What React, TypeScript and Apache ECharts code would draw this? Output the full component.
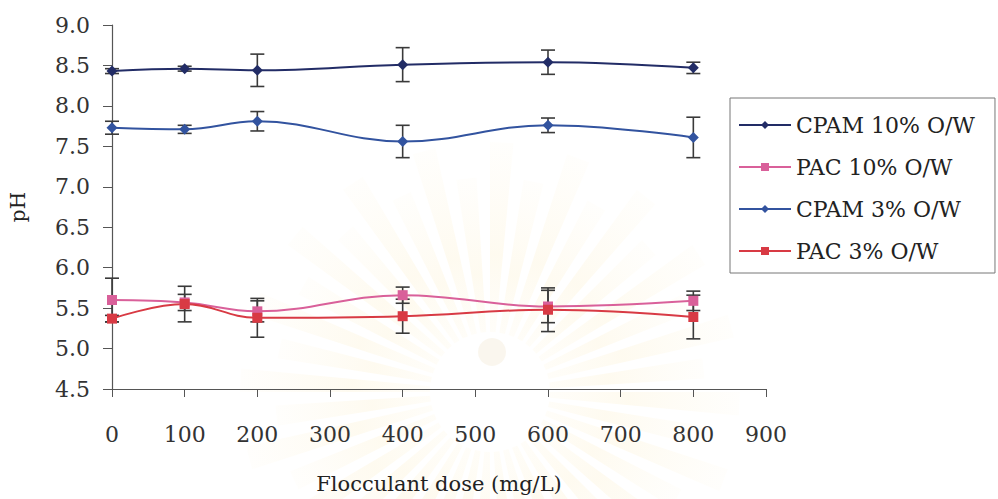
import React, { useEffect, useRef } from "react";
import * as echarts from "echarts";

// Flocculant dose (mg/L) and measured pH with standard deviations
const doses = [0, 100, 200, 400, 600, 800];

const cpam10 = [8.43, 8.46, 8.44, 8.51, 8.54, 8.47];
const cpam10Err = [0.03, 0.03, 0.2, 0.21, 0.15, 0.07];

const pac10 = [5.6, 5.57, 5.46, 5.66, 5.52, 5.59];
const pac10Err = [0.27, 0.1, 0.13, 0.1, 0.2, 0.12];

const cpam3 = [7.73, 7.71, 7.81, 7.56, 7.76, 7.61];
const cpam3Err = [0.08, 0.05, 0.12, 0.2, 0.09, 0.25];

const pac3 = [5.37, 5.55, 5.38, 5.4, 5.48, 5.39];
const pac3Err = [0.04, 0.22, 0.24, 0.21, 0.27, 0.27];

const seriesNames = ["CPAM 10% O/W", "PAC 10% O/W", "CPAM 3% O/W", "PAC 3% O/W"];
const seriesColors = ["#222c66", "#d9609a", "#32539f", "#d83a44"];

const FONT = "DejaVu Serif";

function lineSeries(name: string, values: number[], color: string, symbol: string, size: number) {
  return {
    type: "line",
    name,
    data: doses.map((d, i) => [d, values[i]]),
    smooth: 0.4,
    symbol,
    symbolSize: size,
    showSymbol: true,
    lineStyle: { color, width: 2 },
    itemStyle: { color },
    z: 4,
  };
}

function errorSeries(name: string, values: number[], errs: number[]) {
  return {
    type: "custom",
    name: name + " sd",
    silent: true,
    z: 3,
    encode: { x: 0, y: [1, 2] },
    data: doses.map((d, i) => [d, values[i] - errs[i], values[i] + errs[i]]),
    renderItem: (_params: any, api: any) => {
      const x = api.value(0);
      const lo = api.coord([x, api.value(1)]);
      const hi = api.coord([x, api.value(2)]);
      const cap = 7;
      const style = { stroke: "#3a3a3a", lineWidth: 1.6, fill: null };
      return {
        type: "group",
        children: [
          { type: "line", shape: { x1: lo[0], y1: lo[1], x2: hi[0], y2: hi[1] }, style },
          { type: "line", shape: { x1: lo[0] - cap, y1: lo[1], x2: lo[0] + cap, y2: lo[1] }, style },
          { type: "line", shape: { x1: hi[0] - cap, y1: hi[1], x2: hi[0] + cap, y2: hi[1] }, style },
        ],
      };
    },
  };
}

// faint sunburst emblem in the background
function emblem() {
  const cx = 490;
  const cy = 392;
  const rays: any[] = [];
  const n = 40;
  for (let i = 0; i < n; i++) {
    const a0 = (i / n) * Math.PI * 2;
    const a1 = a0 + ((Math.PI * 2) / n) * 0.6;
    const r = i % 2 === 0 ? 250 : 215;
    rays.push({
      type: "polygon",
      silent: true,
      z: -10,
      shape: {
        points: [
          [cx + Math.cos(a0) * 60, cy + Math.sin(a0) * 60],
          [cx + Math.cos(a0) * r, cy + Math.sin(a0) * r],
          [cx + Math.cos(a1) * r, cy + Math.sin(a1) * r],
          [cx + Math.cos(a1) * 60, cy + Math.sin(a1) * 60],
        ],
      },
      style: {
        fill: new echarts.graphic.RadialGradient(cx, cy, r, [
          { offset: 0, color: "rgba(255,245,215,0.05)" },
          { offset: 0.55, color: "rgba(250,228,165,0.17)" },
          { offset: 1, color: "rgba(250,232,180,0.04)" },
        ], true),
      },
    });
  }
  rays.push({
    type: "circle",
    silent: true,
    z: -9,
    shape: { cx: 492, cy: 352, r: 14 },
    style: { fill: "rgba(240,228,205,0.35)" },
  });
  return rays;
}

export default function App() {
  const ref = useRef<HTMLDivElement>(null);

  useEffect(() => {
    if (!ref.current) return;
    const chart = echarts.init(ref.current, null, { renderer: "svg" });
    chart.setOption({
      animation: false,
      backgroundColor: "#ffffff",
      textStyle: { fontFamily: FONT },
      graphic: { elements: emblem() },
      grid: { left: 112, right: 232, top: 25, bottom: 109 },
      legend: {
        data: seriesNames,
        orient: "vertical",
        left: 730,
        top: 98,
        padding: [16, 20, 11, 8],
        itemGap: 20,
        itemWidth: 52,
        itemHeight: 10,
        borderColor: "#777",
        borderWidth: 1,
        textStyle: { fontFamily: FONT, fontSize: 22, color: "#222", lineHeight: 22 },
      },
      xAxis: {
        type: "value",
        min: 0,
        max: 900,
        interval: 100,
        name: "Flocculant dose (mg/L)",
        nameLocation: "middle",
        nameGap: 84,
        nameTextStyle: { fontFamily: FONT, fontSize: 21, color: "#222" },
        axisLine: { lineStyle: { color: "#555", width: 1.2 } },
        axisTick: { show: true, length: 8, lineStyle: { color: "#555" } },
        axisLabel: { margin: 34, fontFamily: FONT, fontSize: 22, color: "#333" },
        splitLine: { show: false },
      },
      yAxis: {
        type: "value",
        min: 4.5,
        max: 9.0,
        interval: 0.5,
        name: "pH",
        nameLocation: "middle",
        nameRotate: 90,
        nameGap: 84,
        nameTextStyle: { fontFamily: FONT, fontSize: 20, color: "#222" },
        axisLine: { show: true, lineStyle: { color: "#555", width: 1.2 } },
        axisTick: { show: true, length: 9, lineStyle: { color: "#555" } },
        axisLabel: {
          margin: 22,
          fontFamily: FONT,
          fontSize: 22,
          color: "#333",
          formatter: (v: number) => v.toFixed(1),
        },
        splitLine: { show: false },
      },
      series: [
        lineSeries(seriesNames[0], cpam10, seriesColors[0], "diamond", 11),
        lineSeries(seriesNames[1], pac10, seriesColors[1], "rect", 10),
        lineSeries(seriesNames[2], cpam3, seriesColors[2], "diamond", 11),
        lineSeries(seriesNames[3], pac3, seriesColors[3], "rect", 10),
        errorSeries(seriesNames[0], cpam10, cpam10Err),
        errorSeries(seriesNames[1], pac10, pac10Err),
        errorSeries(seriesNames[2], cpam3, cpam3Err),
        errorSeries(seriesNames[3], pac3, pac3Err),
      ],
    });
    return () => chart.dispose();
  }, []);

  return <div ref={ref} style={{ width: 998, height: 499, position: "absolute", left: 0, top: 0 }} />;
}
